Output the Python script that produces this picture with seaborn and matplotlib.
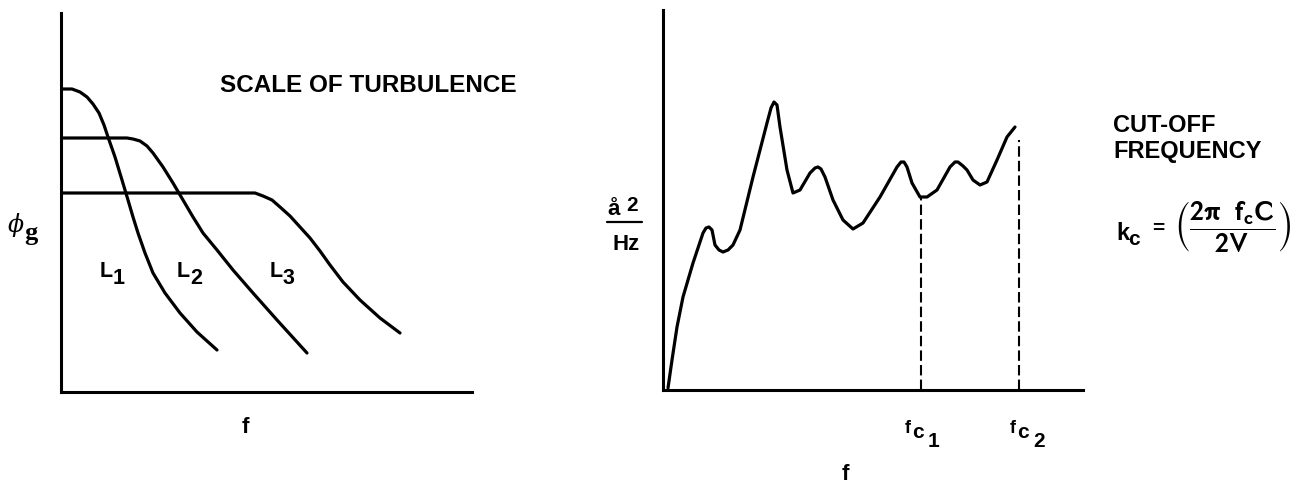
import matplotlib
matplotlib.use('Agg')
import matplotlib.pyplot as plt
import seaborn as sns
from matplotlib.lines import Line2D

W, H = 1295, 488

# left panel: gust spectrum phi_g vs f for three scales of turbulence (arbitrary units)
l1_f = [1, 11, 19, 26, 32, 38, 43, 47, 54, 61, 67, 72, 77, 84, 92, 104, 119, 136, 156]
l1_phi = [303, 303, 300, 295, 288, 279, 267, 255, 235, 212, 192, 175, 159, 139, 119, 99, 79, 60, 42]
l2_f = [1, 66, 72, 79, 86, 92, 102, 112, 122, 132, 142, 156, 172, 192, 216, 246]
l2_phi = [254, 254, 253, 251, 246, 239, 225, 209, 192, 175, 159, 142, 122, 99, 72, 39]
l3_f = [1, 186, 194, 202, 211, 219, 229, 239, 249, 259, 269, 282, 299, 319, 339]
l3_phi = [199, 199, 199, 196, 192, 185, 176, 165, 154, 141, 127, 110, 92, 74, 59]

# right panel: response spectrum a^2/Hz vs f
spec_f = [5, 9, 14, 20, 30, 40, 43, 46, 49, 52, 56, 60, 65, 70, 77, 90, 104, 108, 111, 114,
          117, 124, 130, 137, 147, 152, 155, 158, 162, 170, 180, 190, 200, 217, 234, 238,
          241, 244, 249, 257, 264, 274, 287, 292, 295, 300, 304, 310, 317, 324, 334, 344, 352]
spec_a = [2, 30, 63, 93, 127, 157, 162, 163, 160, 145, 140, 138, 140, 145, 160, 213, 267,
          282, 288, 285, 263, 220, 197, 200, 217, 222, 223, 221, 213, 190, 170, 161, 167,
          193, 223, 228, 228, 223, 207, 193, 193, 200, 223, 228, 228, 224, 220, 210, 205,
          208, 230, 253, 263]
cutoff_f = [258, 356]
cutoff_a = [193, 250]

sns.set_style('white')
plt.rcParams['font.family'] = ['Liberation Sans', 'DejaVu Sans']
plt.rcParams['text.color'] = 'black'

fig = plt.figure(figsize=(W / 100, H / 100), dpi=100)
axL = fig.add_axes([61 / W, (H - 392) / H, 411 / W, 379 / H])
axR = fig.add_axes([663 / W, (H - 390) / H, 420 / W, 380 / H])

for f, p in [(l1_f, l1_phi), (l2_f, l2_phi), (l3_f, l3_phi)]:
    sns.lineplot(x=f, y=p, ax=axL, color='black', lw=2.3, sort=False, estimator=None)
sns.lineplot(x=spec_f, y=spec_a, ax=axR, color='black', lw=2.3, sort=False, estimator=None)
axR.vlines(cutoff_f, 0, cutoff_a, colors='black', linestyles=(0, (5, 2)), lw=1.5)

axL.set_xlim(0, 411)
axL.set_ylim(0, 379)
axR.set_xlim(0, 420)
axR.set_ylim(0, 380)
for ax in (axL, axR):
    sns.despine(ax=ax)
    for s in ['left', 'bottom']:
        ax.spines[s].set_linewidth(2.2)
        ax.spines[s].set_color('black')
    ax.set_xticks([])
    ax.set_yticks([])
    ax.set_xlabel('')
    ax.set_ylabel('')


def put(px, py, s, size=16, **kw):
    kw.setdefault('fontweight', 'bold')
    fig.text(px / W, 1 - py / H, s, fontsize=size, ha='left', va='baseline', **kw)


# left panel text
put(220, 92, 'SCALE OF TURBULENCE', 17.5)
put(8, 232, '\u03d5', 17, family='DejaVu Serif', fontstyle='italic', fontweight='normal')
put(24, 240, 'g', 19, family='Liberation Serif')
for lx, sub in [(100, '1'), (177, '2'), (270, '3')]:
    put(lx, 277, 'L', 15.5)
    put(lx + 13, 284, sub, 15.5)
put(242, 433, 'f', 16)

# right panel text
put(607, 215, '\u00e5', 16)
put(626, 211, '2', 15)
fig.add_artist(Line2D([607 / W, 642 / W], [1 - 222 / H, 1 - 222 / H], color='black', lw=1.6))
put(612, 250, 'Hz', 16)
for fx, sub in [(905, '1'), (1010, '2')]:
    put(fx, 433, 'f', 13)
    put(fx + 7, 438, 'c', 15)
    put(fx + 23, 447, sub, 15)
put(842, 480, 'f', 16)

put(1113, 132, 'CUT-OFF', 17)
put(1113, 158, 'FREQUENCY', 17)
put(1116, 240, 'k', 17)
put(1128, 245, 'c', 15)
put(1152, 234, '=', 15)
fig.text(1174 / W, 1 - 227 / H,
         r'$\left(\dfrac{\mathbf{2\pi\ \ f_c C}}{\mathbf{2V}}\right)$',
         fontsize=20, ha='left', va='center', math_fontfamily='stixsans')

fig.savefig('out.png', dpi=100)
